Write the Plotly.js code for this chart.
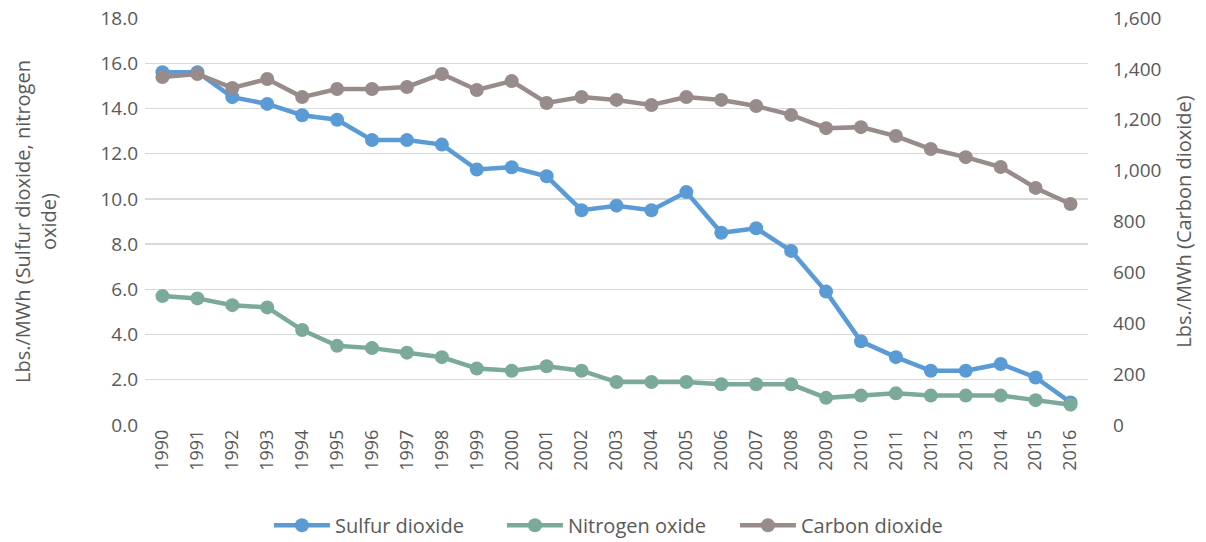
<!DOCTYPE html>
<html>
<head>
<meta charset="utf-8">
<script src="https://cdn.plot.ly/plotly-3.0.1.min.js"></script>
<style>html,body{margin:0;padding:0;background:#fff;}#chart{width:1206px;height:542px;}</style>
</head>
<body>
<div id="chart"></div>
<script>
const years = ["1990","1991","1992","1993","1994","1995","1996","1997","1998","1999","2000","2001","2002","2003","2004","2005","2006","2007","2008","2009","2010","2011","2012","2013","2014","2015","2016"];
const sulfurDioxide = [15.6,15.6,14.5,14.2,13.7,13.5,12.6,12.6,12.4,11.3,11.4,11.0,9.5,9.7,9.5,10.3,8.5,8.7,7.7,5.9,3.7,3.0,2.4,2.4,2.7,2.1,1.0];
const nitrogenOxide = [5.7,5.6,5.3,5.2,4.2,3.5,3.4,3.2,3.0,2.5,2.4,2.6,2.4,1.9,1.9,1.9,1.8,1.8,1.8,1.2,1.3,1.4,1.3,1.3,1.3,1.1,0.9];
const carbonDioxide = [1368,1380,1325,1360,1289,1321,1321,1329,1380,1317,1352,1266,1289,1278,1258,1289,1278,1254,1219,1167,1171,1136,1085,1053,1014,932,869];

const font = "Open Sans, sans-serif";
const txt = "#595959";
function tr(name, y, color, axis) {
  return {x: years, y: y, name: name, type: "scatter", mode: "lines+markers", yaxis: axis,
    line: {color: color, width: 4.5}, marker: {color: color, size: 14}};
}
const data = [
  tr("Sulfur dioxide", sulfurDioxide, "#5B9BD5", "y"),
  tr("Nitrogen oxide", nitrogenOxide, "#7BAA9A", "y"),
  tr("Carbon dioxide", carbonDioxide, "#988C8B", "y2")
];
const layout = {
  width: 1206, height: 542,
  margin: {l: 145, r: 118, t: 18, b: 117},
  paper_bgcolor: "#fff", plot_bgcolor: "#fff",
  font: {family: font, color: txt, size: 18},
  showlegend: true,
  legend: {orientation: "h", xref: "container", yref: "container", x: 0.223, xanchor: "left", y: 0.031, yanchor: "middle",
    font: {size: 20, color: txt}, itemwidth: 56, entrywidth: 162, traceorder: "normal"},
  xaxis: {type: "category", tickangle: -90, range: [-0.5, 26.5], showgrid: false, zeroline: false, showline: false, ticks: "", tickfont: {size: 18, color: txt}, automargin: false},
  yaxis: {range: [0, 18], dtick: 2, tickformat: ".1f", gridcolor: "#D9D9D9", gridwidth: 1.3, zeroline: false, showline: false, ticks: "", ticklabelstandoff: 6, tickfont: {size: 19, color: txt}, automargin: false,
    title: {text: "Lbs./MWh (Sulfur dioxide, nitrogen<br>oxide)", font: {size: 20, color: txt}, standoff: 38}},
  yaxis2: {overlaying: "y", side: "right", range: [0, 1600], dtick: 200, tickformat: ",d", showgrid: false, zeroline: false, showline: false, ticks: "", ticklabelstandoff: 24, tickfont: {size: 19, color: txt}, automargin: false,
    title: {text: "Lbs./MWh (Carbon dioxide)", font: {size: 20, color: txt}, standoff: 16}}
};
Plotly.newPlot("chart", data, layout, {displayModeBar: false, staticPlot: true});
</script>
</body>
</html>
